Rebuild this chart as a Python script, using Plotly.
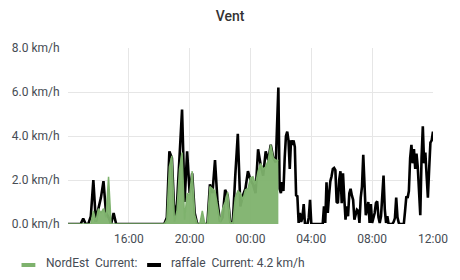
import pandas as pd
import plotly.graph_objects as go

# ---- data ----
# 10-minute samples from 12:00 to 01:50, then 5-minute samples to 12:00
times_10min = pd.date_range("2019-06-01 12:00", periods=84, freq="10min")
times_5min = pd.date_range("2019-06-02 01:55", periods=122, freq="5min")

raffale_part1 = [
    0, 0, 0, 0, 0, 0, 0.25, 0, 0, 0.35,
    2.0, 0.1, 0.7, 1.2, 1.95, 0.5, 0.3, 0, 0.5, 0,
    0, 0, 0, 0, 0, 0, 0, 0, 0, 0,
    0, 0, 0, 0, 0, 0, 0, 0, 0, 0.3,
    3.3, 3.0, 0.35, 0.9, 2.8, 5.2, 1.0, 3.3, 1.4, 2.3,
    0.5, 0, 0, 0, 0, 0, 1.8, 1.4, 2.9, 1.0,
    0.1, 0.3, 1.55, 1.3, 0.1, 0, 2.2, 4.1, 0.8, 1.3,
    1.6, 2.4, 2.0, 1.8, 1.4, 3.4, 2.7, 2.2, 3.3, 2.9,
    3.6, 3.0, 2.8, 6.2,
]
raffale_part2 = [
    1.6, 1.4, 1.9, 1.5, 3.0, 4.0, 4.2, 3.8, 2.5, 3.8,
    3.6, 3.8, 3.5, 1.3, 1.26, 0.05, 0.5, 0.1, 0.3, 0.9,
    0, 0, 0, 0.3, 1.1, 0, 0, 0, 0, 0,
    0, 0, 0, 0, 0, 0.8, 0.05, 1.9, 0.5, 1.3,
    1.94, 2.17, 2.5, 2.55, 2.45, 1.0, 0.95, 2.0, 2.4, 0.95,
    2.3, 1.2, 0.2, 0.8, 0.35, 1.4, 1.6, 1.3, 1.1, 0.2,
    0.5, 0.65, 0.6, 0.05, 1.2, 1.7, 3.15, 1.4, 0.4, 0.65,
    1.0, 0.05, 0.9, 0.05, 0.3, 0.5, 0.95, 1.03, 0.3, 0.05,
    0.35, 1.5, 2.2, 0.65, 0.05, 0.35, 0, 0, 0, 0,
    0.1, 0.27, 1.2, 0.3, 0.05, 0, 0, 0, 0, 0.6,
    1.26, 1.18, 1.5, 3.0, 3.6, 2.76, 3.4, 2.5, 3.2, 2.6,
    1.55, 0.4, 3.0, 4.44, 2.76, 3.25, 2.2, 1.2, 2.5, 3.7,
    3.8, 4.2,
]
raffale_times = list(times_10min) + list(times_5min)
raffale = raffale_part1 + raffale_part2

nordest_times = list(times_10min)
nordest = [
    0, 0, 0, 0, 0, 0, 0, 0, 0, 0,
    0.6, 0.1, 0.7, 0.5, 0.7, 0.3, 2.15, 0, 0, 0,
    0, 0, 0, 0, 0, 0, 0, 0, 0, 0,
    0, 0, 0, 0, 0, 0, 0, 0, 0, 0.2,
    2.6, 3.1, 0.1, 0.6, 2.5, 3.25, 0.2, 1.4, 1.3, 2.4,
    0.4, 0, 0, 0.6, 0, 0, 1.7, 1.6, 1.5, 0.8,
    0.1, 0.7, 1.0, 1.45, 0.1, 0, 1.2, 1.5, 1.4, 1.1,
    1.55, 1.6, 2.1, 2.15, 1.8, 2.4, 2.75, 2.5, 2.6, 2.9,
    3.6, 3.0, 2.9, 2.9,
]

y_ticks = [0, 2, 4, 6, 8]
y_tick_labels = ["0.0 km/h", "2.0 km/h", "4.0 km/h", "6.0 km/h", "8.0 km/h"]
x_ticks = ["2019-06-01 16:00", "2019-06-01 20:00", "2019-06-02 00:00",
           "2019-06-02 04:00", "2019-06-02 08:00", "2019-06-02 12:00"]
x_tick_labels = ["16:00", "20:00", "00:00", "04:00", "08:00", "12:00"]

series_names = ["NordEst", "raffale"]
legend_texts = ["NordEst  Current:", "raffale  Current: 4.2 km/h"]
colors = ["#7EB26D", "#000000"]

# ---- layout geometry (pixels) ----
W, H = 460, 280
L, R, T, B = 65, 26, 48, 56
pw, ph = W - L - R, H - T - B


def px(x):
    return (x - L) / pw


def py(y):
    return (H - B - y) / ph


text_color = "#464c54"
font_family = "Roboto, 'Noto Sans', sans-serif"

fig = go.Figure()
fig.add_trace(go.Scatter(
    x=raffale_times, y=raffale, name=series_names[1], mode="lines",
    line=dict(color=colors[1], width=2.6), connectgaps=False,
    showlegend=False, hoverinfo="skip",
))
fig.add_trace(go.Scatter(
    x=nordest_times, y=nordest, name=series_names[0], mode="lines",
    line=dict(color=colors[0], width=1.5), fill="tozeroy",
    fillcolor="rgba(126,178,109,0.95)", connectgaps=False,
    showlegend=False, hoverinfo="skip",
))

# manual legend (Grafana-style)
sw = [(18, 32, 41), (145, 159, 167)]
for i, (x0, x1, tx) in enumerate(sw):
    fig.add_shape(type="line", xref="paper", yref="paper",
                  x0=px(x0), x1=px(x1), y0=py(265), y1=py(265),
                  line=dict(color=colors[i], width=4))
    fig.add_annotation(xref="paper", yref="paper", x=px(tx), y=py(263),
                       xanchor="left", yanchor="middle", showarrow=False,
                       text=legend_texts[i],
                       font=dict(family=font_family, size=12, color=text_color))

fig.update_layout(
    width=W, height=H,
    margin=dict(l=L, r=R, t=T, b=B),
    paper_bgcolor="white", plot_bgcolor="white",
    font=dict(family=font_family, size=12, color=text_color),
    title=dict(text="Vent", x=0.5, xref="container", xanchor="center",
               y=1 - 16 / H, yref="container", yanchor="middle",
               font=dict(family=font_family, size=14, color="#333333", weight=500)),
    showlegend=False,
    xaxis=dict(
        type="date",
        range=["2019-06-01 12:00", "2019-06-02 12:00:10"],
        tickvals=x_ticks, ticktext=x_tick_labels,
        showgrid=True, gridcolor="#e6e6e6", gridwidth=1,
        zeroline=False, showline=False,
        ticks="outside", ticklen=4, tickcolor="rgba(0,0,0,0)",
        tickfont=dict(size=12, color=text_color),
        fixedrange=True,
    ),
    yaxis=dict(
        range=[0, 8],
        tickvals=y_ticks, ticktext=y_tick_labels,
        showgrid=True, gridcolor="#e6e6e6", gridwidth=1,
        zeroline=False, showline=False,
        ticks="outside", ticklen=5, tickcolor="rgba(0,0,0,0)",
        tickfont=dict(size=12, color=text_color),
        fixedrange=True,
    ),
)

fig.write_html("out.html", config={"displayModeBar": False})
